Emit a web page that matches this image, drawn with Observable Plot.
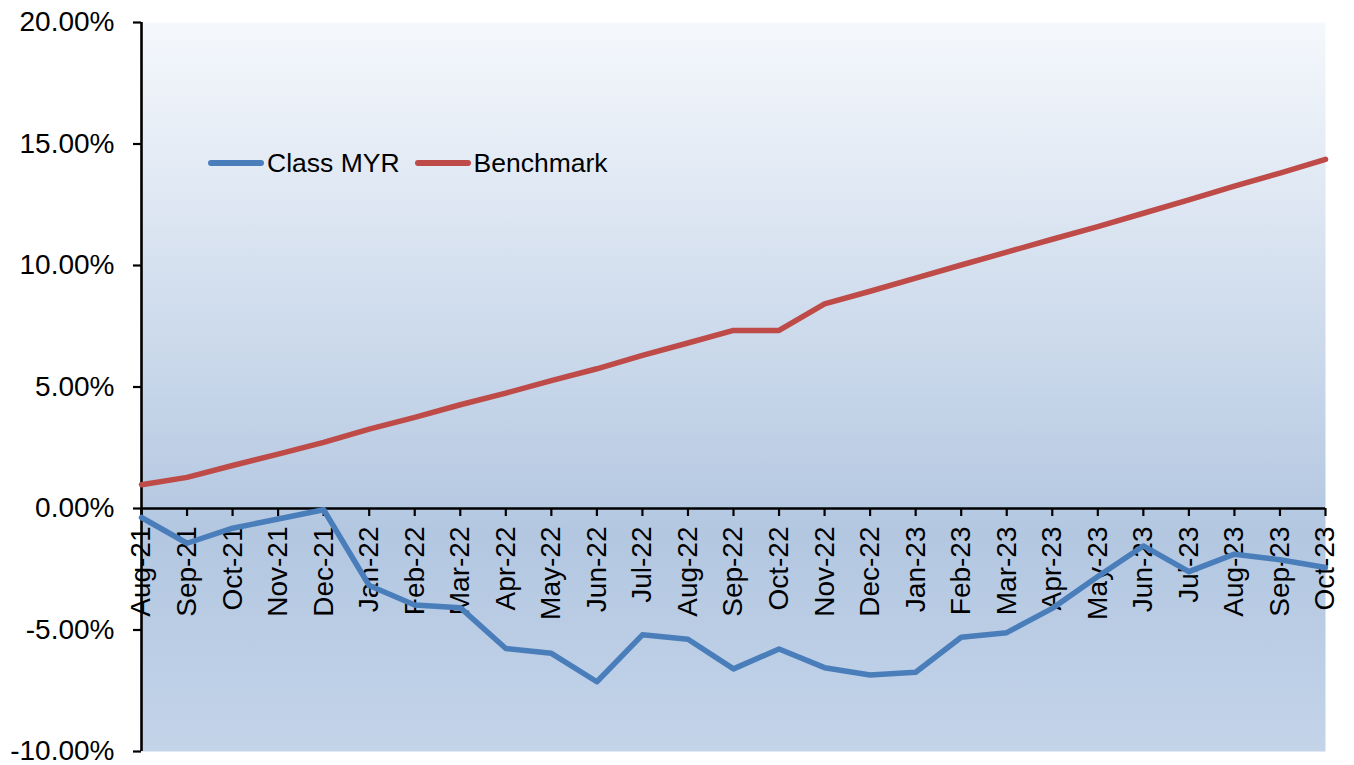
<!DOCTYPE html>
<html><head><meta charset="utf-8">
<script src="https://cdn.jsdelivr.net/npm/d3@7"></script>
<script src="https://cdn.jsdelivr.net/npm/@observablehq/plot@0.6"></script>
<style>
html,body{margin:0;padding:0;background:#fff;overflow:hidden;}
#wrap{position:relative;width:1354px;height:765px;font-family:"Liberation Sans",Arial,sans-serif;}
#legend{position:absolute;left:208px;top:148px;display:flex;align-items:center;font-size:26.5px;color:#000;line-height:30px;}
.item{display:flex;align-items:center;margin-right:15px;}
.sw{width:56px;height:5.5px;border-radius:3px;margin-right:3px;}
</style></head><body><div id="wrap"><div id="legend"></div></div>
<script>
const months = ["Aug-21","Sep-21","Oct-21","Nov-21","Dec-21","Jan-22","Feb-22","Mar-22","Apr-22","May-22","Jun-22","Jul-22","Aug-22","Sep-22","Oct-22","Nov-22","Dec-22","Jan-23","Feb-23","Mar-23","Apr-23","May-23","Jun-23","Jul-23","Aug-23","Sep-23","Oct-23"];
const classMYR = [-0.37,-1.43,-0.81,-0.43,-0.05,-3.17,-3.97,-4.08,-5.76,-5.96,-7.13,-5.20,-5.38,-6.60,-5.78,-6.55,-6.85,-6.74,-5.30,-5.11,-4.11,-2.80,-1.54,-2.60,-1.88,-2.11,-2.43];
const benchmark = [0.98,1.28,1.77,2.24,2.72,3.27,3.75,4.27,4.75,5.26,5.75,6.30,6.81,7.33,7.33,8.42,8.94,9.48,10.02,10.55,11.08,11.60,12.15,12.70,13.27,13.80,14.37];
const yTicks = [-10,-5,0,5,10,15,20];
const seriesNames = ["Class MYR","Benchmark"];
const seriesColors = ["#4a7ebb","#be4b48"];

const rows = [];
months.forEach((m,i)=>{
  rows.push({month:m, series:seriesNames[0], value:classMYR[i]});
});
months.forEach((m,i)=>{
  rows.push({month:m, series:seriesNames[1], value:benchmark[i]});
});

const font = '"Liberation Sans", Arial, sans-serif';
const chart = Plot.plot({
  width:1354, height:765,
  marginLeft:141, marginRight:29, marginTop:22, marginBottom:14,
  style:{fontFamily:font, fontSize:"28px", color:"#000", background:"transparent", overflow:"visible"},
  x:{type:"point", domain:months, padding:0, round:false, axis:null},
  y:{domain:[-10,20], axis:null},
  color:{domain:seriesNames, range:seriesColors},
  marks:[
    Plot.frame({fill:"url(#plotBg)", stroke:"none"}),
    Plot.axisY({ticks:yTicks, label:null, tickSize:8, tickPadding:19, tickFormat:d=>d.toFixed(2)+"%", fontSize:28, stroke:"#000", strokeWidth:2.2, fill:"#000"}),
    Plot.ruleX(months, {x:d=>d, y1:()=>0, y2:()=>0, insetBottom:-8, stroke:"#000", strokeWidth:2.2}),
    Plot.ruleX([months[0]], {stroke:"#000", strokeWidth:2.6}),
    Plot.ruleY([0], {stroke:"#000", strokeWidth:2.6}),
    Plot.text(months, {x:d=>d, y:()=>0, text:d=>d, rotate:-90, textAnchor:"end", lineAnchor:"middle", dy:18, fontSize:28, fill:"#000"}),
    Plot.line(rows, {x:"month", y:"value", z:"series", stroke:"series", strokeWidth:5.5, strokeLinejoin:"round", strokeLinecap:"round"})
  ]
});

const defs = d3.select(chart).insert("defs", ":first-child");
const grad = defs.append("linearGradient").attr("id","plotBg").attr("x1",0).attr("y1",0).attr("x2",0).attr("y2",1);
[[0,"#f5f8fc"],[0.7,"#b3c7e1"],[1,"#c3d4e9"]].forEach(([o,c])=>grad.append("stop").attr("offset",o).attr("stop-color",c));

document.getElementById("wrap").appendChild(chart);

const legend = d3.select("#legend");
seriesNames.forEach((name,i)=>{
  const it = legend.append("div").attr("class","item");
  it.append("div").attr("class","sw").style("background",seriesColors[i]);
  it.append("span").text(name);
});
</script>
</body></html>
